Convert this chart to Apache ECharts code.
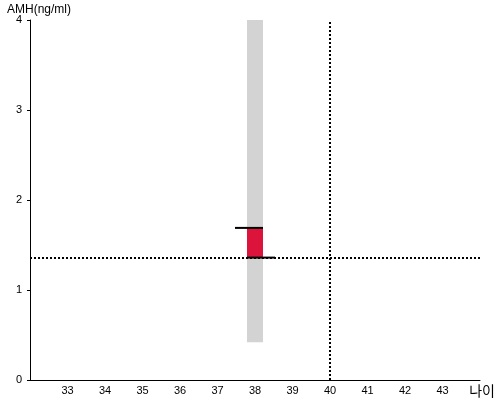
<!DOCTYPE html>
<html>
<head>
<meta charset="utf-8">
<script src="https://cdn.jsdelivr.net/npm/echarts@6/dist/echarts.min.js"></script>
<style>html,body{margin:0;padding:0;background:#fff}#c{width:500px;height:400px}</style>
</head>
<body>
<div id="c"></div>
<script>
// Data
const ages = [38];              // age group center
const rangeLow = [0.42];        // gray range bottom
const rangeHigh = [4];          // gray range top
const boxLow = [1.36];          // red box bottom (median/reference)
const boxHigh = [1.69];         // red box top
const refAge = [40];            // vertical reference line
const refAMH = [1.36];          // horizontal reference line
const xTicks = [33, 34, 35, 36, 37, 38, 39, 40, 41, 42, 43];
const yTicks = [0, 1, 2, 3, 4];

const font = 'Liberation Sans, Arial, sans-serif';
const chart = echarts.init(document.getElementById('c'));
const seriesData = ages.map((a, i) => [a, rangeLow[i], rangeHigh[i], boxLow[i], boxHigh[i]]);

chart.setOption({
  animation: false,
  backgroundColor: '#fff',
  title: {
    text: 'AMH(ng/ml)', left: 7, top: 4, padding: 0,
    textStyle: { fontSize: 12, fontWeight: 'normal', color: '#000', fontFamily: font }
  },
  grid: { left: 30, right: 20, top: 20, bottom: 20, containLabel: false },
  xAxis: {
    type: 'value', min: 32, max: 44, interval: 1,
    name: '나이', nameLocation: 'end', nameGap: 15,
    nameTextStyle: { align: 'right', verticalAlign: 'top', padding: [4, 0, 0, 0], fontSize: 14, color: '#000', fontFamily: 'Noto Sans CJK KR, sans-serif' },
    axisLine: { lineStyle: { color: '#000', width: 1 } },
    axisTick: { show: false },
    splitLine: { show: false },
    axisLabel: {
      showMinLabel: false, showMaxLabel: false, margin: 5,
      color: '#000', fontSize: 11, fontFamily: font,
      formatter: v => xTicks.includes(v) ? String(v) : ''
    }
  },
  yAxis: {
    type: 'value', min: 0, max: 4, interval: 1,
    axisLine: { show: true, lineStyle: { color: '#000', width: 1 } },
    axisTick: { show: true, length: 3, lineStyle: { color: '#000' } },
    splitLine: { show: false },
    axisLabel: {
      margin: 8, color: '#000', fontSize: 11, fontFamily: font, padding: [4, 0, 0, 0],
      formatter: v => yTicks.includes(v) ? String(v) : ''
    }
  },
  series: [{
    type: 'custom',
    data: seriesData,
    renderItem: function (params, api) {
      const x = api.value(0);
      const pLow = api.coord([x, api.value(1)]);
      const pHigh = api.coord([x, api.value(2)]);
      const bLow = api.coord([x, api.value(3)]);
      const bHigh = api.coord([x, api.value(4)]);
      const half = 8, ext = 12;
      const cx = pLow[0];
      return {
        type: 'group',
        children: [
          { type: 'rect', shape: { x: cx - half, y: pHigh[1], width: half * 2, height: pLow[1] - pHigh[1] }, style: { fill: '#d3d3d3' } },
          { type: 'rect', shape: { x: cx - half, y: bHigh[1], width: half * 2, height: bLow[1] - bHigh[1] }, style: { fill: '#dc143c' } },
          { type: 'line', shape: { x1: cx - half - ext, y1: bHigh[1], x2: cx + half, y2: bHigh[1] }, style: { stroke: '#000', lineWidth: 2 } },
          { type: 'line', shape: { x1: cx - half, y1: bLow[1], x2: cx + half + ext, y2: bLow[1] }, style: { stroke: '#000', lineWidth: 2 } }
        ]
      };
    },
    markLine: {
      silent: true, symbol: 'none', label: { show: false },
      lineStyle: { type: 'dotted', color: '#000', width: 2 },
      data: [{ yAxis: refAMH[0] }, { xAxis: refAge[0] }]
    }
  }]
});
</script>
</body>
</html>
